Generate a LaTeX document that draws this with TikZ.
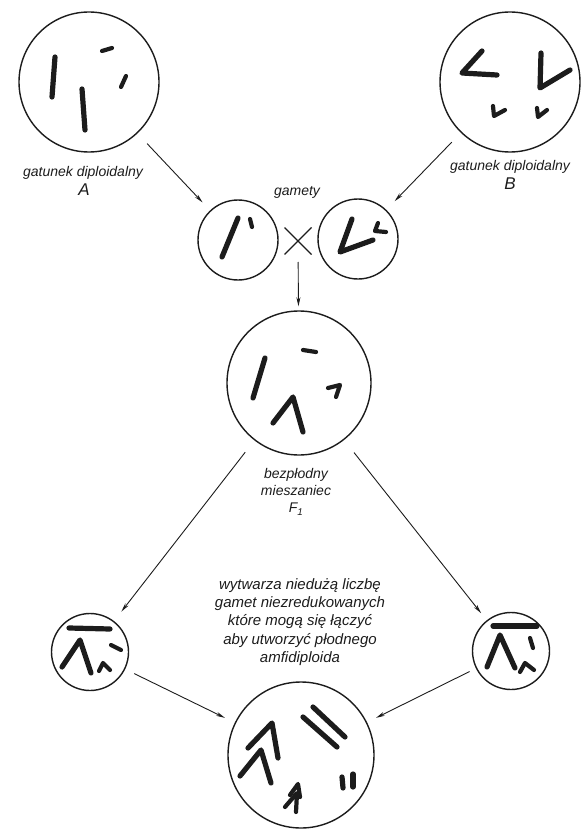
\documentclass[tikz,border=0pt]{standalone}
\usepackage{fontspec}
\setmainfont{Liberation Sans}
\usetikzlibrary{arrows.meta}
\definecolor{ink}{HTML}{1C1C1C}
\begin{document}
\begin{tikzpicture}[x=1pt,y=-1pt,
  cell/.style={circle, draw=ink, line width=1.4pt, inner sep=0pt, minimum size=#1},
  chrom/.style={draw=ink, line width=5.2pt, line cap=round, line join=round},
  chromthin/.style={chrom, line width=4.2pt},
  arr/.style={draw=ink, line width=0.9pt, -{Stealth[length=9pt,width=4pt]}},
  lbl/.style={font=\itshape\fontsize{14}{17}\selectfont, text=ink, align=center, inner sep=0pt},
  letter/.style={font=\itshape\fontsize{17}{18}\selectfont, text=ink, inner sep=0pt},
  note/.style={font=\itshape\fontsize{15}{18.3}\selectfont, text=ink, align=center, inner sep=0pt}
]
\useasboundingbox (0,0) rectangle (582,829);

% ---- cells ----
\node[cell=140pt] (A)  at (89,82)  {};
\node[cell=140pt] (B)  at (510,82) {};
\node[cell=80pt]  (gL) at (238,240) {};
\node[cell=80pt]  (gR) at (358,239) {};
\node[cell=144pt] (F1) at (299,383) {};
\node[cell=77pt]  (LL) at (90,652) {};
\node[cell=77pt]  (LR) at (511,651) {};
\node[cell=146pt] (AM) at (301,755) {};
\coordinate (cross) at (298,241);

% ---- labels ----
\node[lbl] (labA) at (83,173) {gatunek diploidalny};
\node[letter] (letA) at (84,190) {A};
\node[lbl] (labB) at (510,167) {gatunek diploidalny};
\node[letter] (letB) at (510,184) {B};
\node[lbl] (gam) at (297,192) {gamety};
\node[lbl] (labF) at (296,492) {bezpłodny\\mieszaniec\\F\textsubscript{\itshape 1}};
\node[note] (txt) at (300,622) {wytwarza niedużą liczbę\\gamet niezredukowanych\\które mogą się łączyć\\aby utworzyć płodnego\\amfidiploida};

% ---- crossing sign ----
\draw[ink, line width=1.4pt] ([shift={(-13.5,-13.5)}]cross) -- ([shift={(13.5,13.5)}]cross)
                             ([shift={(13.5,-13.5)}]cross) -- ([shift={(-13.5,13.5)}]cross);

% ---- connectors ----
\draw[arr, shorten <=14pt, shorten >=11pt] (A) -- (gL);
\draw[arr, shorten <=13pt, shorten >=12pt] (B) -- (gR);
\draw[arr, shorten <=21pt, shorten >=4pt] (cross) -- (F1);
\draw[arr, shorten <=15pt, shorten >=12pt] (F1) -- (LL);
\draw[arr, shorten <=16pt, shorten >=9pt]  (F1) -- (LR);
\draw[arr, shorten <=10pt, shorten >=11pt] (LL) -- (AM);
\draw[arr, shorten <=7pt,  shorten >=10pt] (LR) -- (AM);

% ---- chromosomes: species A ----
\draw[chrom] (55,57) -- (52,97);
\draw[chrom] (82,89) -- (85,130);
\draw[chromthin] (102,51) -- (112,48);
\draw[chromthin] (126,76) -- (121,87);

% ---- chromosomes: species B ----
\draw[chrom] (482,51) -- (462,73) -- (497,75);
\draw[chrom] (541,53) -- (540,88) -- (570,70);
\draw[chromthin] (493,106) -- (494,116) -- (505,110);
\draw[chromthin] (537,108) -- (538,117) -- (547,110);

% ---- gametes ----
\draw[chrom] (238,218) -- (222,257);
\draw[chromthin] (250,219) -- (252,227);
\draw[chrom] (352,219) -- (340,252) -- (373,240);
\draw[chromthin] (378,223) -- (375,231) -- (386,232);

% ---- F1 hybrid ----
\draw[chrom] (265,358) -- (253,398);
\draw[chromthin] (303,350) -- (316,352);
\draw[chrom] (273,423) -- (293,397) -- (303,432);
\draw[chromthin] (328,388) -- (340,385) -- (336,397);

% ---- unreduced gamete, left ----
\draw[chrom] (69,628) -- (110,629);
\draw[chrom] (62,667) -- (80,640) -- (91,673);
\draw[chromthin] (99,671) -- (103,663) -- (110,670);
\draw[chromthin] (111,645) -- (121,650);

% ---- unreduced gamete, right ----
\draw[chrom] (493,626) -- (537,626);
\draw[chrom] (487,667) -- (500,635) -- (515,668);
\draw[chromthin] (520,672) -- (525,663) -- (534,670);
\draw[chromthin] (530,638) -- (533,648);

% ---- amphidiploid ----
\draw[chrom] (248,748) -- (272,723) -- (278,758);
\draw[chrom] (240,776) -- (261,750) -- (271,783);
\draw[chrom] (303,717) -- (337,747);
\draw[chrom] (313,707) -- (345,737);
\draw[chrom] (342,777) -- (343,788);
\draw[chrom] (353,774) -- (353,787);
\draw[chromthin] (285,807) -- (297,793) -- (296,812);
\draw[chromthin] (290,795) -- (298,784) -- (300,797);
\end{tikzpicture}
\end{document}
